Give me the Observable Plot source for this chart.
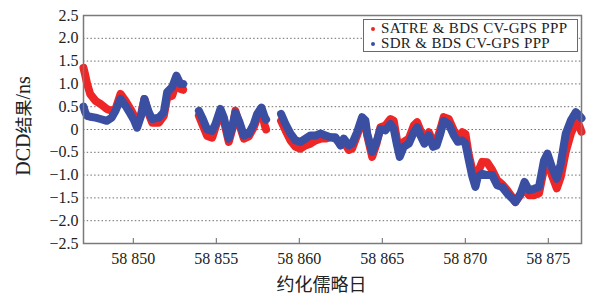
<!DOCTYPE html>
<html><head><meta charset="utf-8">
<script src="https://cdn.jsdelivr.net/npm/d3@7"></script>
<script src="https://cdn.jsdelivr.net/npm/@observablehq/plot@0.6"></script>
<style>
body{margin:0;background:#fff;}
#wrap{position:relative;width:590px;height:300px;}
.legend{position:absolute;left:363px;top:19px;width:213px;height:31px;border:1.5px solid #6a6a6a;background:#fff;font-family:"Liberation Serif",serif;font-size:15px;letter-spacing:0.35px;color:#222;}
.legend .row{position:absolute;left:0;height:15px;line-height:15px;white-space:nowrap;}
.legend .dot{position:absolute;left:7px;top:6px;width:4px;height:4px;border-radius:50%;}
.legend .lab{position:absolute;left:17px;top:0;}
.ylab{position:absolute;left:22px;top:126px;transform:translate(-50%,-50%) rotate(-90deg);white-space:nowrap;font-family:"Liberation Serif",serif;font-size:20px;color:#222;}
.ylab .cjk{font-family:"Noto Sans CJK SC";font-size:17px;}
</style>
</head><body>
<div id="wrap"></div>
<script>
const xTicks = [58850, 58855, 58860, 58865, 58870, 58875];
const yTicks = [-2.5, -2, -1.5, -1, -0.5, 0, 0.5, 1, 1.5, 2, 2.5];
const gridVals = [-2, -1.5, -1, -0.5, 0, 0.5, 1, 1.5, 2];
const seriesNames = ["SATRE & BDS CV-GPS PPP", "SDR & BDS CV-GPS PPP"];
const xLabel = "约化儒略日";

const days = [
58847.0,58847.1,58847.22,58847.4,58847.72,58848.02,58848.4,58848.7,58848.93,58849.23,
58849.53,58849.83,58850.05,58850.23,58850.47,58850.67,58850.93,58851.14,58851.54,58851.84,
58852.04,58852.34,58852.6,58852.84,58853.0,58853.5,
58853.95,58854.15,58854.45,58854.75,58854.95,58855.25,58855.45,58855.75,58855.96,58856.15,
58856.4,58856.66,58856.96,58857.26,58857.46,58857.72,58857.92,58858.0,58858.45,
58858.9,58859.17,58859.47,58859.77,58860.07,58860.37,58860.67,58860.98,58861.28,58861.58,
58861.88,58862.18,58862.48,58862.68,58862.98,58863.18,58863.48,58863.78,58863.98,58864.09,
58864.39,58864.65,58864.89,58865.19,58865.49,58865.69,58865.89,58866.05,58866.29,58866.6,
58866.9,58867.1,58867.3,58867.54,58867.8,58868.06,58868.27,58868.5,58868.7,58869.0,
58869.31,58869.55,58869.82,58870.01,58870.21,58870.42,58870.61,58870.75,58871.02,58871.31,
58871.62,58871.92,58872.22,58872.52,58872.82,58873.02,58873.33,58873.57,58873.83,58874.14,
58874.44,58874.74,58874.95,58875.25,58875.51,58875.75,58876.05,58876.36,58876.66,58876.86,58877.0];

const satre = [
1.35,1.2,1.0,0.78,0.63,0.56,0.45,0.41,0.45,0.78,
0.63,0.45,0.3,0.1,0.34,0.67,0.34,0.15,0.15,0.3,
0.7,0.74,1.04,0.89,0.87,null,
0.3,0.12,-0.14,-0.18,0.05,0.41,0.2,-0.27,0.0,0.41,
0.1,-0.2,-0.15,0.05,0.25,0.41,0.09,0.0,null,
0.19,-0.02,-0.24,-0.38,-0.42,-0.35,-0.31,-0.24,-0.2,-0.2,
-0.17,-0.2,-0.31,-0.27,-0.45,-0.42,-0.13,0.2,0.12,-0.13,
-0.6,-0.31,0.05,0.09,0.23,0.19,-0.24,-0.49,-0.27,-0.2,
0.09,0.16,-0.02,-0.2,-0.06,-0.27,-0.24,0.01,0.27,0.23,
-0.02,-0.17,-0.06,-0.1,-0.56,-0.88,-1.08,-0.95,-0.71,-0.72,
-0.89,-1.11,-1.2,-1.33,-1.48,-1.59,-1.43,-1.29,-1.44,-1.44,
-1.4,-0.86,-0.71,-1.04,-1.29,-1.04,-0.49,-0.09,0.16,0.09,-0.05];

const sdr = [
0.5,0.38,0.3,0.28,0.26,0.23,0.19,0.26,0.41,0.67,
0.52,0.34,0.2,0.04,0.3,0.67,0.38,0.23,0.26,0.38,
0.82,0.93,1.18,1.0,1.0,null,
0.41,0.26,0.0,-0.03,0.12,0.45,0.27,-0.2,0.05,0.37,
0.16,-0.13,-0.09,0.12,0.34,0.48,0.27,0.22,null,
0.34,0.12,-0.09,-0.24,-0.27,-0.2,-0.13,-0.13,-0.09,-0.13,
-0.17,-0.17,-0.35,-0.2,-0.35,-0.31,-0.06,0.27,0.2,-0.09,
-0.49,-0.27,0.01,-0.02,0.12,0.01,-0.35,-0.6,-0.38,-0.31,
-0.06,0.05,-0.13,-0.31,-0.13,-0.38,-0.35,-0.09,0.19,0.12,
-0.13,-0.27,-0.24,-0.31,-0.67,-1.03,-1.26,-1.04,-0.97,-1.0,
-1.0,-1.22,-1.26,-1.4,-1.51,-1.59,-1.4,-1.15,-1.33,-1.3,
-1.26,-0.68,-0.53,-0.86,-1.08,-0.75,-0.09,0.2,0.38,0.31,0.25];

const colors = ["#ee2626", "#3a4ea2"];
const rows = days.map((d, i) => ({day: d, satre: satre[i], sdr: sdr[i]}));

const fmtX = d => String(d).replace(/^(\d\d)(\d{3})$/, "$1 $2");
const fmtY = d => d === 0 ? "0" : d.toFixed(1).replace("-", "−");

const chart = Plot.plot({
  width: 590, height: 300,
  marginLeft: 83, marginRight: 9, marginTop: 15, marginBottom: 57,
  x: {domain: [58847, 58877]},
  y: {domain: [-2.5, 2.5]},
  style: {fontFamily: '"Liberation Serif", serif', fontSize: "16px", color: "#222", background: "#fff"},
  marks: [
    Plot.ruleY(gridVals, {stroke: "#6e6e6e", strokeDasharray: "1.5,2.2", strokeWidth: 1}),
    Plot.line(rows, {x: "day", y: "satre", stroke: colors[0], strokeWidth: 8, strokeLinejoin: "round"}),
    Plot.line(rows, {x: "day", y: "sdr", stroke: colors[1], strokeWidth: 8, strokeLinejoin: "round"}),
    Plot.axisX({ticks: xTicks, tickFormat: fmtX, tickSize: -5, tickPadding: 14, stroke: "#666", label: null}),
    Plot.axisY({ticks: yTicks, tickFormat: fmtY, tickSize: 0, tickPadding: 5, label: null}),
    Plot.text([xLabel], {frameAnchor: "bottom", dx: -11, dy: 47, fontFamily: '"Noto Sans CJK SC"', fontSize: 18, fill: "#222"}),
    Plot.frame({stroke: "#7a7a7a", strokeWidth: 1.5})
  ]
});

const wrap = document.getElementById("wrap");
wrap.appendChild(chart);

const ylab = document.createElement("div");
ylab.className = "ylab";
ylab.innerHTML = 'DCD<span class="cjk">结果</span>/ns';
wrap.appendChild(ylab);

const legend = document.createElement("div");
legend.className = "legend";
seriesNames.forEach((name, i) => {
  const row = document.createElement("div");
  row.className = "row";
  row.style.top = (1 + i * 15) + "px";
  row.style.width = "100%";
  const dot = document.createElement("span");
  dot.className = "dot";
  dot.style.background = colors[i];
  const lab = document.createElement("span");
  lab.className = "lab";
  lab.textContent = name;
  row.appendChild(dot); row.appendChild(lab);
  legend.appendChild(row);
});
wrap.appendChild(legend);
</script>
</body></html>
